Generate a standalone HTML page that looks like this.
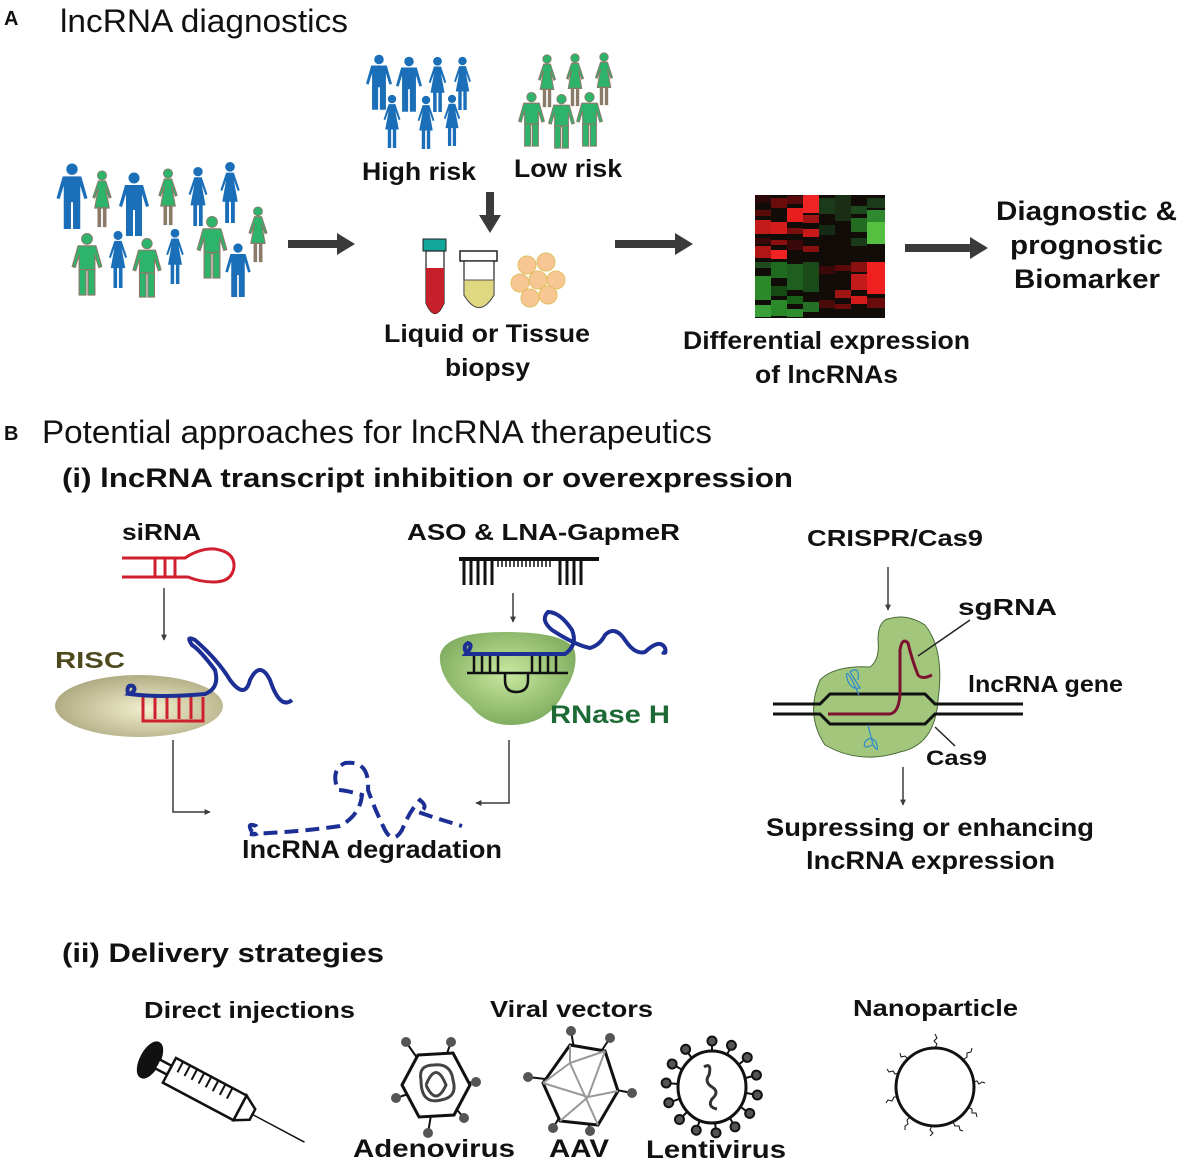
<!DOCTYPE html>
<html><head><meta charset="utf-8"><style>
html,body{margin:0;padding:0;background:#fff;}
svg{display:block;}
text{font-family:"Liberation Sans",Arial,sans-serif;font-weight:bold;fill:#111;}
</style></head><body>
<svg width="1200" height="1170" viewBox="0 0 1200 1170" xmlns="http://www.w3.org/2000/svg">
<defs>
<symbol id="man" viewBox="0 0 30 64">
<circle cx="15" cy="6" r="5.5"/>
<path d="M6 13 H24 L30 34 L27 35 L23 22 V38 H7 V22 L3 35 L0 34 Z"/>
<rect x="7" y="37" width="7" height="27"/><rect x="16" y="37" width="7" height="27"/>
</symbol>
<symbol id="bwoman" viewBox="0 0 20 64">
<circle cx="10" cy="6" r="5"/>
<path d="M6 12 H14 L20 30 L18 31 L14 20 L18 42 H2 L6 20 L2 31 L0 30 Z"/>
<rect x="5" y="41" width="4" height="23"/><rect x="11" y="41" width="4" height="23"/>
</symbol>
<symbol id="gman" viewBox="0 0 30 64">
<circle cx="15" cy="6" r="5.5" fill="#2db36a" stroke="#8a7a6a" stroke-width="1"/>
<path d="M6 13 H24 L30 34 L27 35 L23 22 V38 H7 V22 L3 35 L0 34 Z" fill="#2db36a" stroke="#8a7a6a" stroke-width="1.2"/>
<rect x="7" y="37" width="7" height="26" fill="#2db36a" stroke="#8a7a6a" stroke-width="1.2"/><rect x="16" y="37" width="7" height="26" fill="#2db36a" stroke="#8a7a6a" stroke-width="1.2"/>
</symbol>
<symbol id="gwoman" viewBox="0 0 20 64">
<circle cx="10" cy="6" r="5" fill="#2db36a" stroke="#8a7a6a" stroke-width="1"/>
<path d="M6 12 H14 L20 30 L18 31 L14 20 L18 42 H2 L6 20 L2 31 L0 30 Z" fill="#2db36a" stroke="#8a7a6a" stroke-width="1.2"/>
<rect x="5" y="41" width="4" height="22" fill="#8a7a6a"/><rect x="11" y="41" width="4" height="22" fill="#8a7a6a"/>
</symbol>
<radialGradient id="risc" cx="0.55" cy="0.55" r="0.6"><stop offset="0" stop-color="#f3f0d0"/><stop offset="1" stop-color="#aca77e"/></radialGradient>
<radialGradient id="rnh" cx="0.5" cy="0.45" r="0.6"><stop offset="0" stop-color="#c8e8a0"/><stop offset="1" stop-color="#7aa85a"/></radialGradient>
<marker id="ah" viewBox="0 0 10 10" refX="9" refY="5" markerWidth="4" markerHeight="4" orient="auto"><path d="M0 0 L10 5 L0 10 Z" fill="#3a3a3a"/></marker>
</defs>

<text x="4" y="25" font-size="20">A</text>
<text x="60" y="32" font-size="32" textLength="288" lengthAdjust="spacingAndGlyphs" style="font-weight:normal">lncRNA diagnostics</text>

<g fill="#1a6fb8">
<use href="#man" x="56" y="163" width="32" height="66"/>
<use href="#gwoman" x="91" y="170" width="22" height="58"/>
<use href="#man" x="118" y="172" width="32" height="64"/>
<use href="#gwoman" x="157" y="168" width="22" height="58"/>
<use href="#bwoman" x="187" y="166" width="22" height="60"/>
<use href="#bwoman" x="219" y="161" width="22" height="62"/>
<use href="#gman" x="71" y="233" width="32" height="63"/>
<use href="#bwoman" x="107" y="230" width="22" height="58"/>
<use href="#gman" x="131" y="238" width="32" height="60"/>
<use href="#bwoman" x="164" y="228" width="22" height="56"/>
<use href="#gman" x="196" y="216" width="32" height="63"/>
<use href="#gwoman" x="247" y="206" width="22" height="57"/>
<use href="#man" x="224" y="243" width="28" height="54"/>
<use href="#man" x="366" y="54" width="26" height="56"/>
<use href="#man" x="396" y="56" width="26" height="56"/>
<use href="#bwoman" x="427" y="56" width="21" height="56"/>
<use href="#bwoman" x="452" y="56" width="21" height="54"/>
<use href="#bwoman" x="382" y="94" width="20" height="54"/>
<use href="#bwoman" x="416" y="95" width="20" height="54"/>
<use href="#bwoman" x="442" y="94" width="20" height="52"/>
<use href="#gwoman" x="537" y="54" width="20" height="54"/>
<use href="#gwoman" x="565" y="53" width="20" height="54"/>
<use href="#gwoman" x="594" y="52" width="20" height="54"/>
<use href="#gman" x="518" y="92" width="27" height="55"/>
<use href="#gman" x="548" y="94" width="27" height="55"/>
<use href="#gman" x="576" y="92" width="27" height="55"/>
</g>
<text x="362" y="180" font-size="25" textLength="114" lengthAdjust="spacingAndGlyphs">High risk</text>
<text x="514" y="177" font-size="25" textLength="108" lengthAdjust="spacingAndGlyphs">Low risk</text>

<g fill="#3a3a3a">
<path d="M288 240 H337 V233 L355 244 L337 255 V248 H288 Z"/>
<path d="M486 192 H494 V215 H501 L490 233 L479 215 H486 Z"/>
<path d="M615 240 H675 V233 L693 244 L675 255 V248 H615 Z"/>
<path d="M905 244 H970 V237 L988 248 L970 259 V252 H905 Z"/>
</g>

<rect x="423" y="239" width="23" height="12" fill="#12a79b" stroke="#222" stroke-width="1"/>
<path d="M426 251 V303 Q435 324 444 303 V251 Z" fill="#fff" stroke="#222" stroke-width="1.2"/>
<path d="M426 268 V303 Q435 324 444 303 V268 Z" fill="#c8202a"/>
<rect x="460" y="251" width="37" height="10" fill="#fff" stroke="#222" stroke-width="1.5"/>
<path d="M464 261 V295 Q479 320 494 295 V261 Z" fill="#fff" stroke="#222" stroke-width="1.2"/>
<path d="M464 280 V295 Q479 320 494 295 V280 Z" fill="#e0d880" stroke="#555" stroke-width="1"/>
<g fill="#f8c692" stroke="#e0c060" stroke-width="1">
<circle cx="527" cy="265" r="9"/><circle cx="546" cy="262" r="9"/><circle cx="520" cy="283" r="9"/><circle cx="538" cy="280" r="9"/><circle cx="556" cy="280" r="9"/><circle cx="530" cy="298" r="9"/><circle cx="548" cy="295" r="9"/>
</g>
<text x="384" y="342" font-size="25" textLength="206" lengthAdjust="spacingAndGlyphs">Liquid or Tissue</text>
<text x="445" y="376" font-size="25" textLength="85" lengthAdjust="spacingAndGlyphs">biopsy</text>

<!-- heatmap -->
<g>
<rect x="755" y="195" width="130" height="123" fill="#120c08"/>
<g fill="#a01414">
<rect x="755" y="195" width="16" height="8" fill="#2a0808"/><rect x="755" y="210" width="16" height="6" fill="#5a0a0a"/><rect x="755" y="220" width="16" height="14" fill="#c41a1a"/><rect x="755" y="238" width="16" height="6" fill="#3a0808"/><rect x="755" y="246" width="16" height="12" fill="#b01616"/>
<rect x="771" y="198" width="16" height="10" fill="#6a0c0c"/><rect x="771" y="222" width="16" height="12" fill="#d41c1c"/><rect x="771" y="250" width="16" height="9" fill="#f02222"/><rect x="771" y="240" width="16" height="5" fill="#8a1010"/>
<rect x="787" y="208" width="16" height="14" fill="#e81e1e"/><rect x="787" y="228" width="16" height="6" fill="#7a0e0e"/><rect x="787" y="240" width="16" height="10" fill="#3a0808"/><rect x="787" y="196" width="16" height="8" fill="#5a0a0a"/>
<rect x="803" y="195" width="16" height="18" fill="#f02424"/><rect x="803" y="215" width="16" height="8" fill="#a01414"/><rect x="803" y="229" width="16" height="8" fill="#c81a1a"/><rect x="803" y="246" width="16" height="6" fill="#8a1010"/>
<rect x="755" y="262" width="16" height="6" fill="#1e4a1e"/><rect x="755" y="276" width="16" height="24" fill="#2a8a2a"/><rect x="755" y="305" width="16" height="12" fill="#3aa03a"/>
<rect x="771" y="262" width="16" height="16" fill="#1e6a1e"/><rect x="771" y="286" width="16" height="10" fill="#154a15"/><rect x="771" y="300" width="16" height="16" fill="#2a8a2a"/>
<rect x="787" y="264" width="16" height="26" fill="#1e5e1e"/><rect x="787" y="296" width="16" height="8" fill="#186018"/><rect x="787" y="309" width="16" height="8" fill="#2e8e2e"/>
<rect x="803" y="262" width="16" height="30" fill="#1a4a1a"/><rect x="803" y="302" width="16" height="10" fill="#247024"/>
<rect x="819" y="198" width="16" height="16" fill="#1a3a1a"/><rect x="819" y="225" width="16" height="10" fill="#142a14"/><rect x="819" y="266" width="16" height="8" fill="#3a0808"/><rect x="819" y="300" width="16" height="8" fill="#4a0a0a"/>
<rect x="835" y="195" width="16" height="26" fill="#1a2e16"/><rect x="835" y="265" width="16" height="6" fill="#5a0a0a"/><rect x="835" y="290" width="16" height="8" fill="#a01414"/><rect x="835" y="304" width="16" height="5" fill="#6a0c0c"/>
<rect x="851" y="206" width="16" height="8" fill="#1c4a1c"/><rect x="851" y="218" width="16" height="14" fill="#236a23"/><rect x="851" y="238" width="16" height="8" fill="#1a3a1a"/><rect x="851" y="262" width="16" height="10" fill="#8a1010"/><rect x="851" y="274" width="16" height="16" fill="#c41a1a"/><rect x="851" y="296" width="16" height="8" fill="#d41c1c"/>
<rect x="867" y="198" width="18" height="10" fill="#1a3a1a"/><rect x="867" y="210" width="18" height="12" fill="#2f8a2f"/><rect x="867" y="222" width="18" height="22" fill="#55c040"/><rect x="867" y="262" width="18" height="32" fill="#f02020"/><rect x="867" y="298" width="18" height="10" fill="#6a0c0c"/>
</g>
</g>
<text x="683" y="349" font-size="25" textLength="287" lengthAdjust="spacingAndGlyphs">Differential expression</text>
<text x="755" y="383" font-size="25" textLength="143" lengthAdjust="spacingAndGlyphs">of lncRNAs</text>
<text x="996" y="220" font-size="27" textLength="181" lengthAdjust="spacingAndGlyphs">Diagnostic &amp;</text>
<text x="1010" y="254" font-size="27" textLength="153" lengthAdjust="spacingAndGlyphs">prognostic</text>
<text x="1014" y="288" font-size="27" textLength="146" lengthAdjust="spacingAndGlyphs">Biomarker</text>

<text x="4" y="440" font-size="20">B</text>
<text x="42" y="443" font-size="32" textLength="670" lengthAdjust="spacingAndGlyphs" style="font-weight:normal">Potential approaches for lncRNA therapeutics</text>
<text x="62" y="487" font-size="27" textLength="731" lengthAdjust="spacingAndGlyphs">(i) lncRNA transcript inhibition or overexpression</text>

<!-- siRNA -->
<text x="122" y="540" font-size="23" textLength="79" lengthAdjust="spacingAndGlyphs">siRNA</text>
<g stroke="#d01f2e" stroke-width="3" fill="none">
<path d="M122 558 H185 Q200 548 215 549 Q235 552 234 567 Q232 582 214 582 Q200 582 188 577 H122"/>
<path d="M155 558 V577 M165 558 V577 M175 558 V577"/>
</g>
<line x1="164" y1="588" x2="164" y2="640" stroke="#3a3a3a" stroke-width="1.5" marker-end="url(#ah)"/>
<text x="55" y="668" font-size="23" textLength="70" lengthAdjust="spacingAndGlyphs" style="fill:#4f4a1e">RISC</text>
<ellipse cx="139" cy="706" rx="84" ry="31" fill="url(#risc)"/>
<g stroke="#d01f2e" stroke-width="3" fill="none">
<path d="M143 697 V721 H203 V697"/>
<path d="M155 697 V719 M167 697 V719 M179 697 V719 M191 697 V719"/>
</g>
<path d="M128 694 Q126 684 133 686 Q137 690 130 694 Q160 698 205 694 Q220 688 215 670 Q200 650 192 645 Q185 635 195 640 Q218 660 230 680 Q245 700 250 680 Q260 660 270 680 Q280 710 292 700" stroke="#1c2f94" stroke-width="4" fill="none"/>
<path d="M173 740 V812 H210" stroke="#3a3a3a" stroke-width="1.5" fill="none" marker-end="url(#ah)"/>

<!-- ASO -->
<text x="407" y="540" font-size="23" textLength="273" lengthAdjust="spacingAndGlyphs">ASO &amp; LNA-GapmeR</text>
<g stroke="#111" fill="none">
<path d="M459 559 H599" stroke-width="4"/>
<path d="M464 559 V585 M471 559 V585 M478 559 V585 M485 559 V585 M492 559 V585 M560 559 V585 M567 559 V585 M574 559 V585 M581 559 V585" stroke-width="3"/>
<path d="M498 559 V567 M502 559 V567 M506 559 V567 M510 559 V567 M514 559 V567 M518 559 V567 M522 559 V567 M526 559 V567 M530 559 V567 M534 559 V567 M538 559 V567 M542 559 V567 M546 559 V567 M550 559 V567" stroke-width="1.5"/>
</g>
<line x1="513" y1="593" x2="513" y2="622" stroke="#3a3a3a" stroke-width="1.5" marker-end="url(#ah)"/>
<path d="M440 655 Q445 632 505 632 Q570 632 575 652 Q578 670 565 690 Q550 725 510 725 Q485 725 470 705 Q438 680 440 655 Z" fill="url(#rnh)"/>
<g stroke="#111" stroke-width="2.5" fill="none">
<path d="M467 673 H568 M505 673 V680 Q505 692 516 692 Q528 692 528 680 V673"/>
<path d="M474 653 V673 M482 653 V673 M490 653 V673 M498 653 V673 M532 653 V673 M540 653 V673 M548 653 V673 M556 653 V673"/>
</g>
<path d="M467 654 Q462 646 468 643 Q474 645 466 654 H565 Q578 645 572 630 Q560 612 548 612 Q540 620 552 630 Q575 645 590 648 Q600 645 605 635 Q615 625 625 640 Q635 655 645 652 Q660 638 665 648 Q667 655 662 652" stroke="#1c2f94" stroke-width="4" fill="none"/>
<text x="550" y="723" font-size="25" textLength="120" lengthAdjust="spacingAndGlyphs" style="fill:#1d6a35">RNase H</text>
<path d="M509 740 V803 H476" stroke="#3a3a3a" stroke-width="1.5" fill="none" marker-end="url(#ah)"/>

<!-- degradation -->
<path d="M252 832 Q246 822 256 826 Q262 836 250 834 Q300 832 340 826 Q360 815 362 795 Q345 790 338 790 Q330 770 345 763 Q370 760 368 790 Q375 810 385 830 Q393 845 402 830 Q410 810 420 800 Q430 808 418 812 Q435 818 462 826" stroke="#1c2f94" stroke-width="4" fill="none" stroke-dasharray="14 7"/>
<text x="242" y="858" font-size="25" textLength="260" lengthAdjust="spacingAndGlyphs">lncRNA degradation</text>

<!-- CRISPR -->
<text x="807" y="546" font-size="23" textLength="176" lengthAdjust="spacingAndGlyphs">CRISPR/Cas9</text>
<line x1="888" y1="567" x2="888" y2="610" stroke="#3a3a3a" stroke-width="1.5" marker-end="url(#ah)"/>
<path d="M885 620 Q905 612 925 625 Q945 650 938 700 Q935 745 900 752 Q860 765 825 745 Q805 715 820 680 Q835 665 870 667 Q880 660 878 640 Q878 625 885 620 Z" fill="#a2c77c" stroke="#4a6a3a" stroke-width="1"/>
<g stroke="#111" stroke-width="3" fill="none">
<path d="M773 704 H820 L830 694 H925 L935 704 H1023"/>
<path d="M773 714 H820 L830 724 H925 L935 714 H1023"/>
</g>
<path d="M828 714 H890 Q900 712 900 690 V650 Q902 637 908 643 Q912 660 918 675 Q922 680 932 675" stroke="#7d1230" stroke-width="3" fill="none"/>
<path d="M918 656 L970 620" stroke="#222" stroke-width="1.5"/>
<path d="M935 727 L955 746" stroke="#222" stroke-width="1.5"/>
<g stroke="#2a8ad0" stroke-width="1.2" fill="none">
<path d="M859 695 L852 680 Q845 668 847 678 Q850 690 860 688 L850 672 Q860 665 858 680"/>
<path d="M868 725 L873 745 Q880 755 876 742 Q870 735 865 742 Q862 750 872 745"/>
</g>
<text x="958" y="615" font-size="23" textLength="99" lengthAdjust="spacingAndGlyphs">sgRNA</text>
<text x="968" y="692" font-size="23" textLength="155" lengthAdjust="spacingAndGlyphs">lncRNA gene</text>
<text x="926" y="765" font-size="21" textLength="61" lengthAdjust="spacingAndGlyphs">Cas9</text>
<line x1="903" y1="767" x2="903" y2="805" stroke="#3a3a3a" stroke-width="1.5" marker-end="url(#ah)"/>
<text x="766" y="836" font-size="25" textLength="328" lengthAdjust="spacingAndGlyphs">Supressing or enhancing</text>
<text x="806" y="869" font-size="25" textLength="249" lengthAdjust="spacingAndGlyphs">lncRNA expression</text>

<!-- Delivery -->
<text x="62" y="962" font-size="27" textLength="322" lengthAdjust="spacingAndGlyphs">(ii) Delivery strategies</text>
<text x="144" y="1018" font-size="23" textLength="211" lengthAdjust="spacingAndGlyphs">Direct injections</text>
<text x="490" y="1017" font-size="23" textLength="163" lengthAdjust="spacingAndGlyphs">Viral vectors</text>
<text x="853" y="1016" font-size="23" textLength="165" lengthAdjust="spacingAndGlyphs">Nanoparticle</text>

<g transform="translate(150,1060) rotate(28)" stroke="#111" stroke-width="2.5" fill="#fff">
<ellipse cx="0" cy="0" rx="9" ry="19" fill="#111"/>
<rect x="8" y="-5" width="14" height="10"/>
<rect x="22" y="-14" width="80" height="28"/>
<path d="M102 -14 L116 -6 V6 L102 14 Z"/>
<line x1="116" y1="0" x2="175" y2="0" stroke-width="1.5"/>
<path d="M30 -14 V-2 M38 -14 V-2 M46 -14 V-2 M54 -14 V-2 M62 -14 V-2 M70 -14 V-2 M78 -14 V-2 M86 -14 V-2" stroke-width="2"/>
</g>

<g transform="translate(436,1085)">
<g stroke="#111" stroke-width="2"><line x1="0" y1="0" x2="-30" y2="-43"/><line x1="0" y1="0" x2="15" y2="-43"/><line x1="0" y1="0" x2="40" y2="-3"/><line x1="0" y1="0" x2="-40" y2="13"/><line x1="0" y1="0" x2="28" y2="33"/><line x1="0" y1="0" x2="-8" y2="48"/></g>
<polygon points="-18,-30 17,-32 34,0 18,30 -17,32 -34,0" fill="#fff" stroke="#111" stroke-width="3"/>
<path d="M-15 -5 Q-18 -20 -2 -20 Q15 -22 17 -5 Q22 12 5 15 Q-15 20 -15 -5 Z M-10 0 Q0 -25 10 0 Q0 22 -10 0" stroke="#444" stroke-width="3" fill="none"/>
<g fill="#555"><circle cx="-30" cy="-43" r="5"/><circle cx="15" cy="-43" r="5"/><circle cx="40" cy="-3" r="5"/><circle cx="-40" cy="13" r="5"/><circle cx="28" cy="33" r="5"/><circle cx="-8" cy="48" r="5"/></g>
</g>
<g transform="translate(580,1083)">
<g stroke="#111" stroke-width="2"><line x1="0" y1="0" x2="-9" y2="-52"/><line x1="0" y1="0" x2="30" y2="-45"/><line x1="0" y1="0" x2="-52" y2="-6"/><line x1="0" y1="0" x2="52" y2="10"/><line x1="0" y1="0" x2="-27" y2="45"/><line x1="0" y1="0" x2="10" y2="48"/></g>
<polygon points="-10,-38 25,-32 38,8 18,42 -20,38 -37,0" fill="#fff" stroke="#111" stroke-width="3"/>
<g stroke="#999" stroke-width="2" fill="none"><path d="M-37 0 L-10 -20 L25 -32 M-10 -20 L18 42 M-37 0 L8 14 L38 8 M-20 38 L8 14 L25 -32 M-10 -38 L-10 -20"/></g>
<g fill="#555"><circle cx="-9" cy="-52" r="5"/><circle cx="30" cy="-45" r="5"/><circle cx="-52" cy="-6" r="5"/><circle cx="52" cy="10" r="5"/><circle cx="-27" cy="45" r="5"/><circle cx="10" cy="48" r="5"/></g>
</g>
<g transform="translate(712,1087)">
<g stroke="#111" stroke-width="2" fill="#555">
<g id="sp"><line x1="0" y1="0" x2="0" y2="-44"/><circle cx="0" cy="-46" r="4.5"/></g>
<use href="#sp" transform="rotate(25)"/><use href="#sp" transform="rotate(50)"/><use href="#sp" transform="rotate(75)"/><use href="#sp" transform="rotate(100)"/><use href="#sp" transform="rotate(125)"/><use href="#sp" transform="rotate(150)"/><use href="#sp" transform="rotate(175)"/><use href="#sp" transform="rotate(200)"/><use href="#sp" transform="rotate(225)"/><use href="#sp" transform="rotate(250)"/><use href="#sp" transform="rotate(275)"/><use href="#sp" transform="rotate(300)"/><use href="#sp" transform="rotate(325)"/>
</g>
<ellipse cx="0" cy="0" rx="34" ry="36" fill="#fff" stroke="#111" stroke-width="3"/>
<path d="M-8 -20 Q0 -25 -3 -12 Q-8 -5 0 0 Q8 5 0 12 Q-5 20 5 22" stroke="#333" stroke-width="3" fill="none"/>
</g>
<g transform="translate(935,1087)">
<circle cx="0" cy="0" r="39" fill="#fff" stroke="#111" stroke-width="3"/>
<g stroke="#111" stroke-width="1" fill="none">
<path d="M0 -39 l2 -4 l-3 -3 l3 -3 l-2 -4"/>
<path d="M28 -27 l4 -3 l0 -4 l4 -1 l1 -4"/>
<path d="M38 -5 l4 -1 l2 3 l3 -2 l3 1"/>
<path d="M33 20 l4 2 l0 4 l4 0 l1 4"/>
<path d="M18 35 l2 4 l4 0 l1 4 l3 1"/>
<path d="M-3 39 l-2 4 l3 3 l-3 3"/>
<path d="M-25 30 l-3 3 l1 4 l-3 2 l0 4"/>
<path d="M-37 10 l-4 0 l-2 4 l-4 -1 l-2 3"/>
<path d="M-36 -14 l-4 1 l-2 -3 l-4 1 l-2 -3"/>
<path d="M-27 -28 l-3 -3 l-4 1 l-1 -4"/>
</g>
</g>
<text x="353" y="1157" font-size="25" textLength="162" lengthAdjust="spacingAndGlyphs">Adenovirus</text>
<text x="549" y="1157" font-size="25" textLength="60" lengthAdjust="spacingAndGlyphs">AAV</text>
<text x="646" y="1158" font-size="25" textLength="140" lengthAdjust="spacingAndGlyphs">Lentivirus</text>
</svg>
</body></html>
